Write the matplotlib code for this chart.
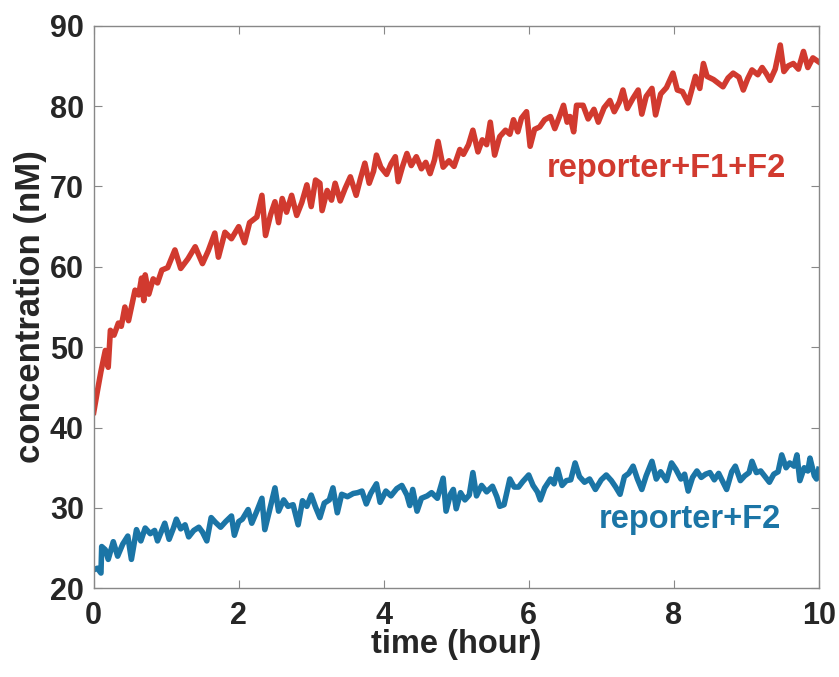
import numpy as np
import matplotlib.pyplot as plt

# reporter+F1+F2 (red)
red_t = [0.00, 0.05, 0.10, 0.16, 0.20, 0.23, 0.28, 0.34, 0.38, 0.43, 0.48, 0.57, 0.62, 0.66, 0.69,
         0.71, 0.76, 0.82, 0.88, 0.94, 1.02, 1.12, 1.20, 1.30, 1.40, 1.50, 1.58, 1.67, 1.72, 1.81,
         1.90, 2.00, 2.08, 2.15, 2.25, 2.32, 2.37, 2.44, 2.50, 2.55, 2.60, 2.66, 2.73, 2.80, 2.87,
         2.94, 3.00, 3.06, 3.12, 3.15, 3.22, 3.28, 3.33, 3.40, 3.47, 3.54, 3.62, 3.68, 3.74, 3.80,
         3.86, 3.90, 3.96, 4.04, 4.10, 4.16, 4.20, 4.26, 4.32, 4.38, 4.45, 4.52, 4.58, 4.64, 4.70,
         4.75, 4.82, 4.90, 4.97, 5.05, 5.10, 5.17, 5.23, 5.30, 5.36, 5.42, 5.47, 5.53, 5.60, 5.68,
         5.74, 5.79, 5.85, 5.90, 5.97, 6.02, 6.08, 6.15, 6.22, 6.30, 6.36, 6.42, 6.48, 6.53, 6.57,
         6.62, 6.66, 6.75, 6.82, 6.90, 6.96, 7.04, 7.12, 7.18, 7.25, 7.30, 7.36, 7.44, 7.51, 7.56,
         7.62, 7.70, 7.75, 7.82, 7.90, 7.99, 8.05, 8.12, 8.20, 8.30, 8.36, 8.41, 8.46, 8.55, 8.68,
         8.75, 8.82, 8.90, 8.96, 9.02, 9.08, 9.16, 9.22, 9.28, 9.33, 9.40, 9.47, 9.52, 9.58, 9.65,
         9.72, 9.79, 9.85, 9.92, 10.00]
red_c = [41.9, 44.5, 47.0, 49.6, 47.5, 52.1, 51.5, 53.0, 52.6, 55.0, 53.3, 57.1, 56.5, 58.6, 55.8,
         59.0, 56.6, 58.5, 58.0, 59.6, 59.9, 62.1, 59.8, 61.0, 62.5, 60.4, 62.0, 64.2, 61.2, 64.3,
         63.5, 65.0, 63.0, 65.5, 66.2, 68.9, 63.9, 66.5, 68.1, 65.5, 68.5, 66.8, 68.9, 66.4, 68.0,
         70.2, 67.5, 70.8, 70.4, 67.0, 69.5, 68.3, 70.4, 68.2, 69.8, 71.2, 68.9, 71.0, 72.9, 70.4,
         71.9, 73.9, 72.4, 71.5, 72.8, 73.7, 70.6, 72.5, 74.1, 72.6, 73.7, 72.2, 73.0, 71.6, 73.3,
         75.6, 72.4, 73.2, 72.5, 74.6, 74.0, 75.2, 77.0, 74.3, 75.8, 75.2, 78.0, 73.9, 76.2, 77.0,
         76.5, 78.3, 76.8, 78.5, 79.3, 75.0, 77.1, 77.4, 78.3, 78.7, 77.2, 78.6, 80.1, 78.0, 78.7,
         76.8, 80.1, 80.1, 78.4, 79.6, 78.0, 79.8, 80.7, 79.3, 80.5, 82.0, 79.7, 81.0, 82.0, 79.0,
         81.2, 82.2, 78.9, 81.5, 82.3, 84.1, 82.0, 81.8, 80.4, 83.7, 82.2, 85.3, 83.7, 83.3, 82.4,
         83.5, 84.1, 83.6, 82.0, 83.4, 84.5, 83.9, 84.8, 84.0, 83.2, 84.6, 87.6, 84.3, 85.0, 85.3,
         84.6, 86.8, 84.8, 86.0, 85.5]

# reporter+F2 (blue)
blue_t = [0.00, 0.05, 0.10, 0.11, 0.16, 0.20, 0.27, 0.33, 0.40, 0.47, 0.52, 0.59, 0.65, 0.71, 0.78,
          0.84, 0.88, 0.98, 1.04, 1.10, 1.14, 1.20, 1.26, 1.31, 1.38, 1.45, 1.50, 1.56, 1.62, 1.68,
          1.75, 1.82, 1.90, 1.94, 2.00, 2.05, 2.13, 2.18, 2.25, 2.32, 2.36, 2.42, 2.50, 2.55, 2.62,
          2.68, 2.75, 2.82, 2.88, 2.94, 3.00, 3.06, 3.12, 3.18, 3.25, 3.30, 3.36, 3.42, 3.50, 3.58,
          3.64, 3.70, 3.76, 3.82, 3.90, 3.95, 4.03, 4.10, 4.18, 4.25, 4.32, 4.36, 4.40, 4.46, 4.52,
          4.60, 4.66, 4.74, 4.82, 4.86, 4.92, 4.96, 5.00, 5.06, 5.12, 5.18, 5.23, 5.28, 5.35, 5.42,
          5.50, 5.56, 5.60, 5.66, 5.74, 5.80, 5.86, 5.92, 6.00, 6.06, 6.12, 6.16, 6.22, 6.30, 6.35,
          6.40, 6.46, 6.52, 6.58, 6.64, 6.70, 6.77, 6.84, 6.92, 7.00, 7.07, 7.14, 7.20, 7.26, 7.32,
          7.38, 7.44, 7.50, 7.56, 7.62, 7.70, 7.76, 7.82, 7.90, 7.97, 8.03, 8.10, 8.15, 8.20, 8.26,
          8.32, 8.38, 8.44, 8.50, 8.56, 8.62, 8.68, 8.73, 8.80, 8.85, 8.92, 8.98, 9.04, 9.08, 9.14,
          9.20, 9.26, 9.32, 9.38, 9.44, 9.49, 9.55, 9.60, 9.66, 9.70, 9.74, 9.80, 9.85, 9.88, 9.94,
          9.97, 10.00]
blue_c = [22.3, 22.5, 21.9, 25.2, 24.8, 23.6, 25.8, 24.0, 25.5, 26.5, 23.6, 27.3, 25.9, 27.5, 26.8,
          27.2, 25.9, 28.1, 26.1, 27.5, 28.6, 27.4, 27.9, 26.4, 27.2, 27.6, 27.0, 25.9, 28.8, 28.2,
          27.6, 28.3, 29.0, 26.6, 28.3, 28.6, 29.8, 28.1, 29.6, 31.2, 27.3, 29.5, 32.5, 29.6, 31.0,
          30.2, 30.4, 27.9, 30.9, 30.2, 31.6, 30.1, 28.8, 30.6, 31.0, 32.5, 29.4, 31.7, 31.4, 31.8,
          31.9, 32.1, 30.5, 31.8, 33.0, 30.7, 32.1, 31.5, 32.4, 32.8, 31.6, 30.3, 32.3, 29.6, 31.2,
          31.5, 31.9, 31.2, 33.7, 29.6, 31.7, 32.3, 29.9, 31.9, 31.0, 31.6, 34.4, 31.5, 32.8, 32.0,
          32.7, 31.4, 30.2, 30.4, 33.6, 32.6, 32.6, 33.3, 34.1, 32.8, 32.0, 31.0, 32.5, 33.6, 33.0,
          34.8, 32.8, 33.4, 33.5, 35.6, 33.9, 33.2, 33.6, 32.3, 33.5, 34.1, 33.4, 32.6, 31.7, 33.9,
          34.3, 35.2, 33.6, 32.3, 34.0, 35.8, 33.6, 34.5, 33.4, 35.6, 34.8, 33.6, 34.2, 32.1, 33.8,
          34.6, 33.8, 34.2, 34.4, 33.5, 34.3, 33.2, 32.3, 34.5, 35.2, 33.4, 34.0, 34.4, 35.8, 34.4,
          34.6, 33.9, 33.2, 34.2, 34.5, 36.6, 35.0, 35.6, 35.2, 36.6, 33.4, 35.0, 34.6, 36.2, 34.0,
          33.6, 34.8]

red = '#d13a2f'
blue = '#1b75a6'

plt.rcParams['font.family'] = ['Liberation Sans', 'DejaVu Sans']
plt.rcParams['font.weight'] = 'bold'

fig = plt.figure(figsize=(8.39, 6.77), dpi=100)
ax = fig.add_axes([0.1117, 0.131, 0.8641, 0.831])

ax.plot(red_t, red_c, color=red, linewidth=4.0, solid_joinstyle='round')
ax.plot(blue_t, blue_c, color=blue, linewidth=4.0, solid_joinstyle='round')

ax.text(7.90, 71.2, 'reporter+F1+F2', color=red, fontsize=23.5, fontweight='bold',
        ha='center', va='baseline')
ax.text(8.22, 27.5, 'reporter+F2', color=blue, fontsize=23.5, fontweight='bold',
        ha='center', va='baseline')

ax.set_xlim(0, 10)
ax.set_ylim(20, 90)
ax.set_xticks([0, 2, 4, 6, 8, 10])
ax.set_yticks([20, 30, 40, 50, 60, 70, 80, 90])
ax.tick_params(direction='in', length=6, width=0.8, color='#888888',
               labelsize=22, labelcolor='#262626', top=True, right=True)
ax.tick_params(axis='x', pad=9)
ax.tick_params(axis='y', pad=7)
for lab in ax.get_xticklabels() + ax.get_yticklabels():
    lab.set_fontweight('bold')
for s in ax.spines.values():
    s.set_color('#888888')
    s.set_linewidth(1.0)

ax.set_xlabel('time (hour)', fontsize=23.5, fontweight='bold', color='#262626', labelpad=-1)
ax.set_ylabel('concentration (nM)', fontsize=25, fontweight='bold', color='#262626', labelpad=2)

fig.savefig('out.png', dpi=100)
